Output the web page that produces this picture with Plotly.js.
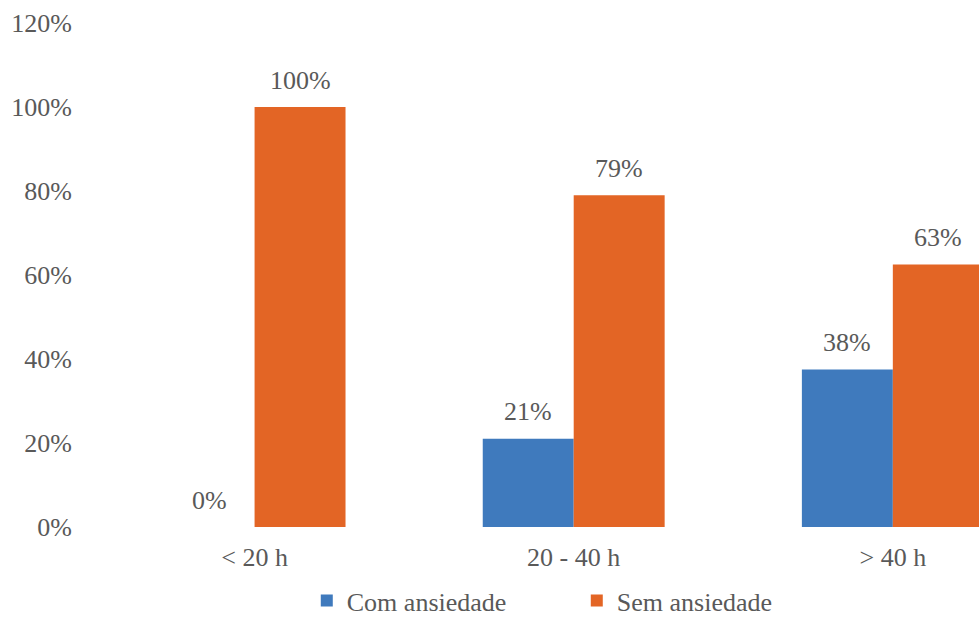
<!DOCTYPE html>
<html>
<head>
<meta charset="utf-8">
<script src="https://cdn.plot.ly/plotly-3.0.1.min.js"></script>
<style>html,body{margin:0;padding:0;background:#fff;}#chart{width:979px;height:624px;}</style>
</head>
<body>
<div id="chart"></div>
<script>
const categories = ["< 20 h", "20 - 40 h", "> 40 h"];
const comAnsiedade = [0, 0.21, 0.375];
const semAnsiedade = [1.0, 0.79, 0.625];
const seriesNames = ["Com ansiedade", "Sem ansiedade"];
const yTickVals = [0, 0.2, 0.4, 0.6, 0.8, 1.0, 1.2];
const yTickText = ["0%", "20%", "40%", "60%", "80%", "100%", "120%"];

const fontFamily = 'Times New Roman, Liberation Serif, serif';
const fontSize = 26;
const textColor = '#595959';
const colors = ['#3F7ABD', '#E36525'];

const W = 979, H = 624;
const margin = {l: 95, r: 0, t: 23, b: 97};
const xRange = [-0.5, 2.27];
const bargap = 0.43;
const catPx = (W - margin.l - margin.r) / (xRange[1] - xRange[0]);
const barPx = catPx * (1 - bargap) / 2;

const series = [comAnsiedade, semAnsiedade];
const traces = series.map((vals, i) => ({
  type: 'bar', name: seriesNames[i], x: categories, y: vals,
  marker: {color: colors[i], line: {width: 0}},
  hoverinfo: 'skip'
}));

const annotations = [];
series.forEach((vals, i) => {
  vals.forEach((v, j) => {
    annotations.push({
      x: categories[j], y: v, xref: 'x', yref: 'y',
      text: Math.round(v * 100) + '%', showarrow: false,
      xshift: (i === 0 ? -1 : 1) * barPx / 2, yshift: 27,
      xanchor: 'center', yanchor: 'middle',
      font: {family: fontFamily, size: fontSize, color: textColor}
    });
  });
});

const layout = {
  width: W, height: H, margin: margin,
  paper_bgcolor: '#fff', plot_bgcolor: '#fff',
  font: {family: fontFamily, size: fontSize, color: textColor},
  barmode: 'group', bargap: bargap, bargroupgap: 0,
  showlegend: true,
  legend: {
    orientation: 'h', x: 0.545, xanchor: 'center',
    yref: 'container', y: 0, yanchor: 'bottom',
    font: {family: fontFamily, size: fontSize, color: textColor},
    entrywidth: 225, entrywidthmode: 'pixels', itemwidth: 30,
    traceorder: 'normal'
  },
  annotations: annotations,
  xaxis: {
    type: 'category', range: xRange, showgrid: false, zeroline: false,
    showline: false, ticks: '', ticklabelstandoff: 12,
    tickfont: {family: fontFamily, size: fontSize, color: textColor}
  },
  yaxis: {
    range: [0, 1.2], tickvals: yTickVals, ticktext: yTickText,
    showgrid: false, zeroline: false, showline: false, ticks: '',
    ticklabelstandoff: 22,
    tickfont: {family: fontFamily, size: fontSize, color: textColor}
  }
};

Plotly.newPlot('chart', traces, layout, {staticPlot: true, displayModeBar: false});
</script>
</body>
</html>
